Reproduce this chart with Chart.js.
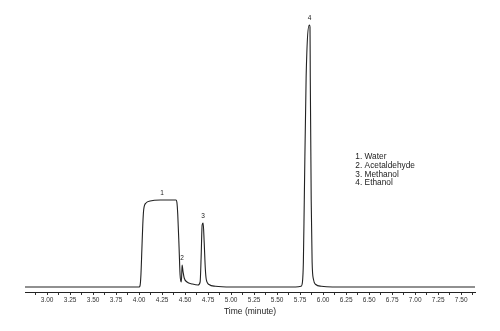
<!DOCTYPE html>
<html lang="en">
<head>
	<meta charset="UTF-8" />
	<title>Chromatogram</title>
	<script src="https://cdn.jsdelivr.net/npm/chart.js@4.4.1/dist/chart.umd.min.js"></script>
	<style>
		html, body { margin:0; padding:0; background:#fff; }
		#wrap { position:relative; width:500px; height:331px; }
	</style>
</head>
<body>
	<div id="wrap">
	<canvas id="myChart" width="500" height="331"></canvas>
	</div>
</body>
</html>
<script>
	// signal trace (time in minutes, detector response)
	times = [2.76, 4.00, 4.01, 4.02, 4.03, 4.04, 4.05, 4.075, 4.12, 4.23, 4.40, 4.41, 4.42, 4.435, 4.445, 4.457,
		4.462, 4.467, 4.478, 4.49, 4.52, 4.58, 4.64, 4.663, 4.674, 4.685, 4.696, 4.707, 4.72, 4.73, 4.76, 4.83, 5.00,
		5.70, 5.76, 5.775, 5.785, 5.795, 5.815, 5.85, 5.857, 5.86, 5.87, 5.88, 5.895, 5.92, 5.98, 6.10, 7.65];
	signal = [0, 0, 0.5, 5, 15, 25, 31, 33.6, 34.4, 34.8, 34.8, 34, 29, 15, 5, 2,
		4, 8.8, 6, 3.6, 2, 1.2, 0.8, 2, 12, 24.8, 25.6, 18, 7, 3, 1, 0.3, 0,
		0, 0.3, 2, 10, 35, 84, 104.8, 104, 84, 35, 10, 3, 1, 0.3, 0, 0];

	peakNames = ["1", "2", "3", "4"];
	peakTimes = [4.25, 4.467, 4.696, 5.853];
	peakTops = [34.8, 8.8, 25.6, 104.8];

	compounds = ["1. Water", "2. Acetaldehyde", "3. Methanol", "4. Ethanol"];

	tickValues = [];
	for (let k = 23; k <= 61; k++) tickValues.push(k * 0.125);

	points = times.map((t, i) => ({x: t, y: signal[i]}));

	const labelPlugin = {
		id: 'labels',
		afterDatasetsDraw(chart) {
			const ctx = chart.ctx;
			const xs = chart.scales.x, ys = chart.scales.y;
			ctx.save();
			ctx.fillStyle = '#222';
			ctx.font = '6.5px "Liberation Sans", Arial, sans-serif';
			ctx.textAlign = 'center';
			ctx.textBaseline = 'bottom';
			peakNames.forEach((n, i) => {
				ctx.fillText(n, xs.getPixelForValue(peakTimes[i]), ys.getPixelForValue(peakTops[i]) - 4);
			});
			ctx.font = '8.3px "Liberation Sans", Arial, sans-serif';
			ctx.textAlign = 'left';
			ctx.textBaseline = 'middle';
			compounds.forEach((c, i) => {
				ctx.fillText(c, xs.getPixelForValue(6.35), ys.getPixelForValue(52) + i * 8.7);
			});
			ctx.restore();
		}
	};

	const ctx = document.getElementById('myChart').getContext('2d');
	const chart = new Chart(ctx, {
		type: 'line',
		data: {
			datasets: [{
				data: points,
				borderColor: '#222',
				borderWidth: 1.1,
				pointRadius: 0,
				fill: false,
				tension: 0.2,
				cubicInterpolationMode: 'monotone'
			}]
		},
		options: {
			responsive: false,
			animation: false,
			layout: {padding: {left: 25, right: 25, top: 5, bottom: 14}},
			plugins: {legend: {display: false}, tooltip: {enabled: false}},
			scales: {
				x: {
					type: 'linear',
					min: 2.76,
					max: 7.65,
					afterBuildTicks: (axis) => { axis.ticks = tickValues.map(v => ({value: v})); },
					ticks: {
						autoSkip: false,
						maxRotation: 0,
						padding: 1,
						color: '#333',
						font: {size: 6.5, family: '"Liberation Sans", Arial, sans-serif'},
						callback: (v) => (Math.round(v * 8) % 2 === 0 ? v.toFixed(2) : '')
					},
					grid: {drawOnChartArea: false, drawTicks: true, tickLength: 3, color: '#333'},
					border: {display: true, color: '#222', width: 1},
					title: {
						display: true,
						text: 'Time (minute)',
						color: '#222',
						padding: {top: 2, bottom: 0},
						font: {size: 8.5, family: '"Liberation Sans", Arial, sans-serif'}
					}
				},
				y: {
					display: false,
					min: -2,
					max: 112.8
				}
			}
		},
		plugins: [labelPlugin]
	});
</script>
